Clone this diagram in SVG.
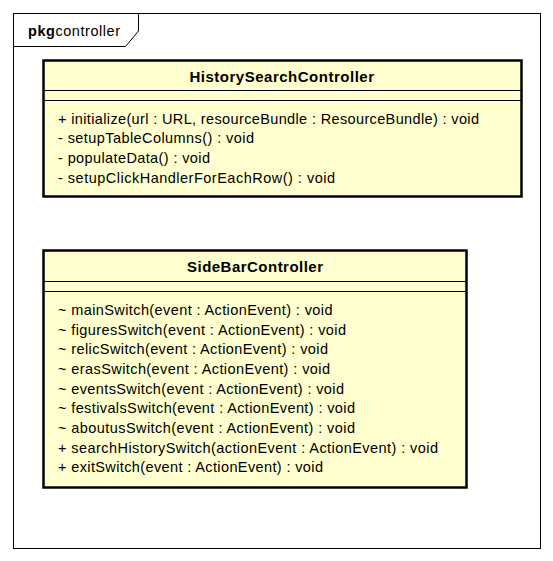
<svg xmlns="http://www.w3.org/2000/svg" width="553" height="561" viewBox="0 0 553 561">
<style>
text{font-family:"Liberation Sans",Arial,sans-serif;font-size:14.5px;fill:#000}
.t{font-weight:bold;font-size:15px}
.box{fill:#FEFECE;stroke:#000;stroke-width:2.5}
.ln{stroke:#000;stroke-width:1}
</style>
<rect width="553" height="561" fill="#fff"/>
<g id="pkg">
<rect x="13.5" y="13.5" width="527" height="535" fill="none" stroke="#000" stroke-width="1"/>
<path d="M13.5,46.5 H125.5 L138.5,31 V13.5" fill="none" stroke="#000" stroke-width="1"/>
<text x="28" y="36" textLength="92" lengthAdjust="spacing"><tspan font-weight="bold">pkg</tspan>controller</text>
</g>
<g id="HistorySearchController">
<rect class="box" x="43.5" y="60.5" width="478" height="136"/>
<text class="t" x="189.5" y="82" textLength="184.5" lengthAdjust="spacing">HistorySearchController</text>
<line class="ln" x1="43.5" y1="90.5" x2="521.5" y2="90.5"/>
<line class="ln" x1="43.5" y1="100.5" x2="521.5" y2="100.5"/>
<text x="58" y="123.5" textLength="421" lengthAdjust="spacing">+ initialize(url : URL, resourceBundle : ResourceBundle) : void</text>
<text x="58" y="143" textLength="196" lengthAdjust="spacing">- setupTableColumns() : void</text>
<text x="58" y="163" textLength="152" lengthAdjust="spacing">- populateData() : void</text>
<text x="58" y="182.5" textLength="277" lengthAdjust="spacing">- setupClickHandlerForEachRow() : void</text>
</g>
<g id="SideBarController">
<rect class="box" x="43.5" y="250.5" width="423" height="237"/>
<text class="t" x="187" y="272" textLength="136" lengthAdjust="spacing">SideBarController</text>
<line class="ln" x1="43.5" y1="281.5" x2="466.5" y2="281.5"/>
<line class="ln" x1="43.5" y1="291.5" x2="466.5" y2="291.5"/>
<text x="58" y="315" textLength="274.5" lengthAdjust="spacing">~ mainSwitch(event : ActionEvent) : void</text>
<text x="58" y="334.5" textLength="288" lengthAdjust="spacing">~ figuresSwitch(event : ActionEvent) : void</text>
<text x="58" y="354" textLength="270" lengthAdjust="spacing">~ relicSwitch(event : ActionEvent) : void</text>
<text x="58" y="374" textLength="272" lengthAdjust="spacing">~ erasSwitch(event : ActionEvent) : void</text>
<text x="58" y="393.5" textLength="286" lengthAdjust="spacing">~ eventsSwitch(event : ActionEvent) : void</text>
<text x="58" y="413" textLength="297" lengthAdjust="spacing">~ festivalsSwitch(event : ActionEvent) : void</text>
<text x="58" y="433" textLength="297" lengthAdjust="spacing">~ aboutusSwitch(event : ActionEvent) : void</text>
<text x="58" y="452.5" textLength="380" lengthAdjust="spacing">+ searchHistorySwitch(actionEvent : ActionEvent) : void</text>
<text x="58" y="472" textLength="265" lengthAdjust="spacing">+ exitSwitch(event : ActionEvent) : void</text>
</g>
<g id="connectors"></g>
</svg>
